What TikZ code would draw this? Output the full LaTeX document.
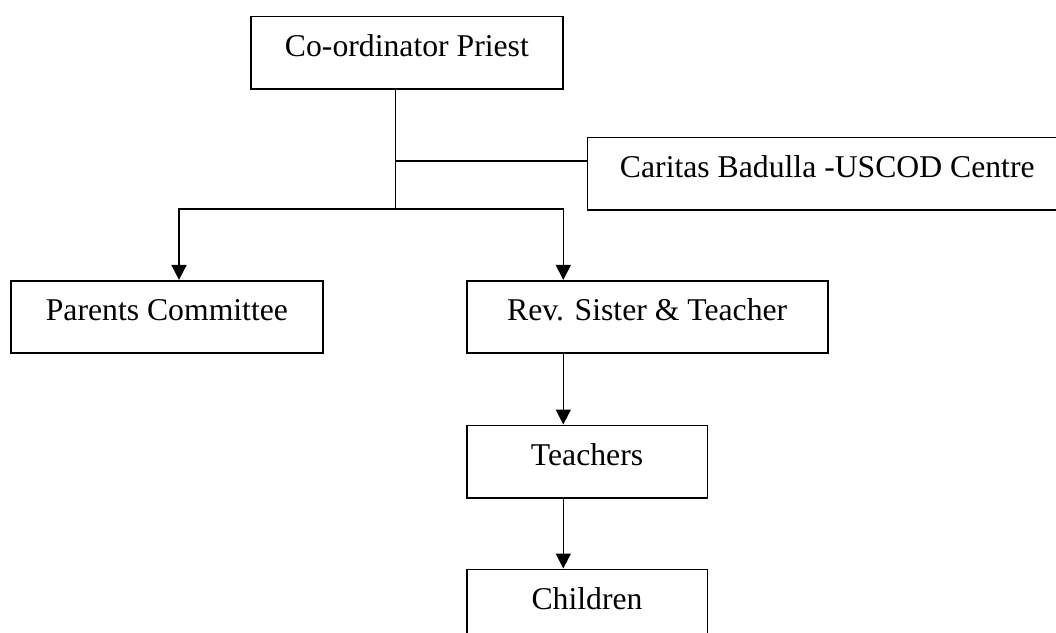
\documentclass[tikz,border=0pt]{standalone}
\usepackage{fontspec}
\setmainfont{Liberation Serif}
\usetikzlibrary{arrows.meta}
\tikzset{
  orgbox/.style={draw, line width=1.6pt, inner xsep=0pt, inner ysep=0pt,
    text height=40pt, text depth=32.5pt, anchor=base,
    font=\fontsize{31.7}{38}\selectfont},
  link/.style={line width=1.6pt},
  arr/.style={line width=1.6pt, -{Triangle[width=15pt,length=15pt]}}
}
\begin{document}
\begin{tikzpicture}[x=1pt, y=-1pt]
\useasboundingbox (0,0) rectangle (1056,632);
\clip (0,0) rectangle (1056,632);
\node[orgbox, minimum width=312.3pt] (priest) at (406.9,56.5) {Co-ordinator Priest};
\node[orgbox, minimum width=480pt] (caritas) at (827.3,177.3) {Caritas Badulla -USCOD Centre};
\node[orgbox, minimum width=311.7pt] (parents) at (166.9,320.7) {Parents Committee};
\node[orgbox, minimum width=361pt] (rev) at (647.2,320.7) {Rev. Sister \& Teacher};
\node[orgbox, minimum width=240.6pt] (teach) at (587,465.3) {Teachers};
\node[orgbox, minimum width=240.6pt] (child) at (587,609.3) {Children};
\coordinate (j1) at (395.5,161);
\coordinate (j2) at (395.5,209);
\coordinate (lax) at (179,0);
\coordinate (rax) at (563.3,0);
\draw[link] (priest.south -| j1) -- (j2);
\draw[link] (j1) -- (j1 -| caritas.west);
\draw[arr] (j2) -| (parents.north -| lax);
\draw[arr] (j2) -| (rev.north -| rax);
\draw[arr] (rev.south -| rax) -- (teach.north -| rax);
\draw[arr] (teach.south -| rax) -- (child.north -| rax);
\end{tikzpicture}
\end{document}
